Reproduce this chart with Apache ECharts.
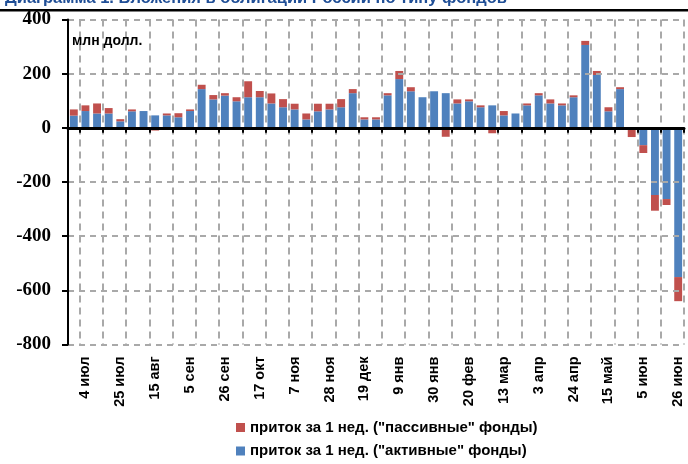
<!DOCTYPE html>
<html>
<head>
<meta charset="utf-8">
<script src="https://cdn.jsdelivr.net/npm/echarts@6/dist/echarts.min.js"></script>
<style>
  html, body { margin: 0; padding: 0; background: #ffffff; }
  #chart { width: 688px; height: 464px; }
</style>
</head>
<body>
<div id="chart"></div>
<script>
// Weekly reporting dates (week ending)
const weeks = [
  '27 июн', '4 июл', '11 июл', '18 июл', '25 июл', '1 авг', '8 авг', '15 авг', '22 авг', '29 авг',
  '5 сен', '12 сен', '19 сен', '26 сен', '3 окт', '10 окт', '17 окт', '24 окт', '31 окт', '7 ноя',
  '14 ноя', '21 ноя', '28 ноя', '5 дек', '12 дек', '19 дек', '26 дек', '2 янв', '9 янв', '16 янв',
  '23 янв', '30 янв', '6 фев', '13 фев', '20 фев', '27 фев', '6 мар', '13 мар', '20 мар', '27 мар',
  '3 апр', '10 апр', '17 апр', '24 апр', '1 май', '8 май', '15 май', '22 май', '29 май', '5 июн',
  '12 июн', '19 июн', '26 июн'
];

// Weekly inflow, passive funds (USD mn)
const passiveFlows = [
  23, 21, 37, 20, 8, 7, -8, -10, 7, 15,
  6, 16, 16, 9, 15, 59, 23, 37, 30, 21,
  22, 28, 21, 30, 15, 8, 8, 8, 30, 15,
  -8, -8, -33, 15, 7, 7, -20, 16, -6, 7,
  8, 15, 7, 7, 15, 15, 15, 7, -34, -29,
  -58, -22, -89
];

// Weekly inflow, active funds (USD mn)
const activeFlows = [
  45, 62, 53, 53, 24, 61, 62, 46, 46, 39,
  62, 143, 105, 119, 98, 113, 113, 90, 76, 68,
  31, 61, 68, 76, 128, 31, 31, 120, 180, 135,
  113, 135, 128, 90, 98, 76, 83, 46, 53, 83,
  120, 90, 83, 113, 306, 195, 61, 143, 0, -64,
  -248, -263, -551
];

// Value axis ticks
const yTicks = [-800, -600, -400, -200, 0, 200, 400];

const seriesNames = {
  passive: 'приток за 1 нед. ("пассивные" фонды)',
  active: 'приток за 1 нед. ("активные" фонды)'
};

const chart = echarts.init(document.getElementById('chart'), null, { renderer: 'canvas' });

const gridColor = '#a9a9a9';
const oddBoundary = function (i) { return i % 2 === 1; };

chart.setOption({
  animation: false,
  backgroundColor: '#ffffff',
  grid: { left: 68, right: 4, top: 19.5, bottom: 119.5, containLabel: false },
  legend: {
    orient: 'vertical',
    left: 236,
    top: 419.5,
    height: 60,
    padding: 0,
    itemWidth: 9,
    itemHeight: 9,
    itemGap: 7.5,
    icon: 'rect',
    selectedMode: false,
    data: [seriesNames.passive, seriesNames.active],
    textStyle: {
      fontFamily: 'Liberation Sans',
      fontWeight: 'bold',
      fontSize: 15,
      color: '#000000',
      lineHeight: 16
    }
  },
  xAxis: [
    {
      // bottom labels + vertical grid
      type: 'category',
      data: weeks,
      position: 'bottom',
      boundaryGap: true,
      axisLine: { show: false, onZero: false },
      axisTick: { show: false },
      axisLabel: {
        interval: function (i) { return i % 3 === 1; },
        rotate: 90,
        margin: 12,
        fontFamily: 'Liberation Sans',
        fontWeight: 'bold',
        fontSize: 14.5,
        color: '#000000',
        padding: [5, 0, 0, 0]
      },
      splitLine: {
        show: true,
        interval: oddBoundary,
        lineStyle: { color: gridColor, width: 2, type: [7, 5] }
      }
    },
    {
      // zero line with ticks
      type: 'category',
      data: weeks,
      position: 'bottom',
      boundaryGap: true,
      z: 10,
      axisLine: { show: true, onZero: true, lineStyle: { color: '#000000', width: 3 } },
      axisTick: { show: true, interval: oddBoundary, length: 5, lineStyle: { color: '#000000', width: 2 } },
      axisLabel: { show: false },
      splitLine: { show: false }
    }
  ],
  yAxis: {
    type: 'value',
    min: yTicks[0],
    max: yTicks[yTicks.length - 1],
    interval: yTicks[1] - yTicks[0],
    z: 10,
    axisLine: { show: true, lineStyle: { color: '#000000', width: 2 } },
    axisTick: { show: true, length: 6, lineStyle: { color: '#000000', width: 2 } },
    axisLabel: {
      margin: 17,
      fontFamily: 'Liberation Sans Narrow',
      fontWeight: 'bold',
      fontSize: 19,
      color: '#000000'
    },
    splitLine: {
      show: true,
      lineStyle: { color: gridColor, width: 2, type: [6, 5] }
    }
  },
  series: [
    {
      name: seriesNames.active,
      type: 'bar',
      stack: 'flows',
      xAxisIndex: 0,
      data: activeFlows,
      barCategoryGap: '32%',
      itemStyle: { color: '#4f81bd' }
    },
    {
      name: seriesNames.passive,
      type: 'bar',
      stack: 'flows',
      xAxisIndex: 0,
      data: passiveFlows,
      barCategoryGap: '32%',
      itemStyle: { color: '#c0504d' }
    }
  ],
  graphic: [
    {
      type: 'text',
      x: 5,
      y: -1.6,
      silent: true,
      style: {
        text: 'Диаграмма 1. Вложения в облигации России по типу фондов',
        font: 'bold 16.5px "Liberation Sans"',
        fill: '#1f4e96',
        verticalAlign: 'middle'
      }
    },
    {
      type: 'rect',
      silent: true,
      shape: { x: 0, y: 9, width: 688, height: 2.5 },
      style: { fill: '#000000' }
    },
    {
      type: 'text',
      x: 72,
      y: 41.5,
      silent: true,
      z: 20,
      style: {
        text: 'млн долл.',
        font: 'bold 14px "Liberation Sans"',
        fill: '#000000',
        verticalAlign: 'middle'
      }
    }
  ]
});
</script>
</body>
</html>
